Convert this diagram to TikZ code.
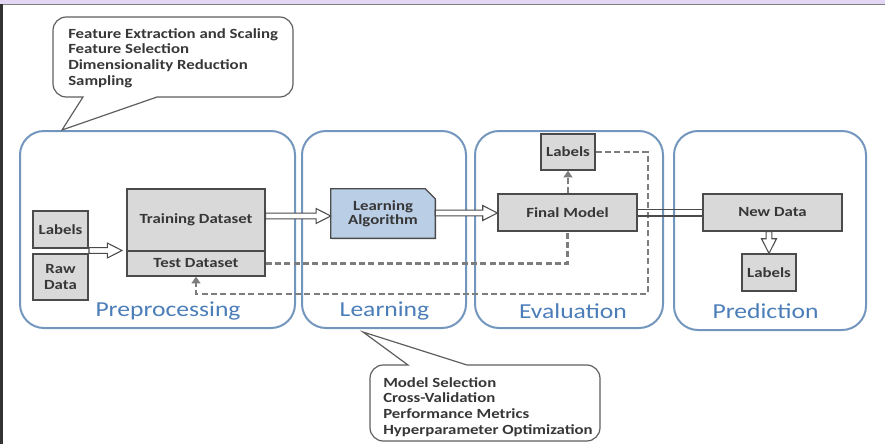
\documentclass[tikz,border=0pt]{standalone}
\usepackage{fontspec}
\setmainfont{Carlito}[FakeStretch=1.2]
\usetikzlibrary{calc,arrows.meta,shadows}

\definecolor{boxgray}{RGB}{217,217,217}
\definecolor{boxline}{RGB}{75,75,75}
\definecolor{textgray}{RGB}{55,55,55}
\definecolor{panelblue}{RGB}{115,150,190}
\definecolor{titleblue}{RGB}{75,125,185}
\definecolor{algoblue}{RGB}{186,206,230}
\definecolor{dashgray}{RGB}{125,125,125}
\definecolor{calloutgray}{RGB}{95,95,95}
\definecolor{lavender}{RGB}{228,214,245}

\newcommand{\pxu}{0.75pt}
% block arrow between two named coordinates
\newcommand{\hollowarrow}[2]{%
  \coordinate (hb) at ($(#2)!11pt!(#1)$);
  \draw[hollow] ($(#1)!2.2pt!-90:(#2)$) -- ($(hb)!2.2pt!90:(#1)$) -- ($(hb)!5.6pt!90:(#1)$)
    -- (#2) -- ($(hb)!5.6pt!-90:(#1)$) -- ($(hb)!2.2pt!-90:(#1)$) -- ($(#1)!2.2pt!90:(#2)$) -- cycle;}

\tikzset{
  panel/.style={draw=panelblue, line width=1.5pt, rounded corners=18pt, inner sep=0pt},
  paneltitle/.style={text=titleblue, font=\fontsize{16}{18}\selectfont, inner sep=0pt},
  box/.style={draw=boxline, fill=boxgray, line width=0.9pt, text=textgray, inner sep=0pt,
    align=center, font=\fontsize{10.5}{11.5}\selectfont\bfseries,
    drop shadow={opacity=0.25, shadow xshift=0.8pt, shadow yshift=-0.8pt}},
  algotext/.style={text=textgray, inner sep=0pt, align=center,
    font=\fontsize{10.5}{10.5}\selectfont\bfseries},
  hollow/.style={draw=boxline, fill=white, line width=0.8pt, line join=miter},
  feedback/.style={draw=dashgray, line width=1.7pt, dash pattern=on 4.5pt off 2.5pt},
  tip/.style={-{Triangle[length=5pt,width=6.5pt]}},
  callout/.style={draw=calloutgray, line width=0.9pt, fill=white},
  calltext/.style={text=textgray, inner sep=0pt, align=left, anchor=north west,
    font=\fontsize{10.5}{11.8}\selectfont\bfseries}
}

\begin{document}
\begin{tikzpicture}[x=0.75pt, y=-0.75pt]
  \useasboundingbox (0,0) rectangle (885,444);
  % screen edges
  \fill[lavender] (0,0) rectangle (885,4);
  \draw[gray, line width=0.6pt] (0,4.4) -- (885,4.4);
  \fill[black!80] (0,4) rectangle (3,444);

  % stage panels
  \node[panel, minimum width=275*\pxu, minimum height=197*\pxu] (pre) at (157.5,229.5) {};
  \node[panel, minimum width=164*\pxu, minimum height=197*\pxu] (learn) at (384,229.5) {};
  \node[panel, minimum width=188*\pxu, minimum height=197*\pxu] (eval) at (569,229.5) {};
  \node[panel, minimum width=192*\pxu, minimum height=199*\pxu] (pred) at (770,230.5) {};
  \node[paneltitle] (pretitle) at (168,311) {Preprocessing};
  \node[paneltitle] (learntitle) at (384.5,311) {Learning};
  \node[paneltitle] (evaltitle) at (573,311) {Evaluation};
  \node[paneltitle] (predtitle) at (765.5,311) {Prediction};

  % callouts
  \coordinate (pretip) at (62,130);
  \draw[callout] (83,97) [rounded corners=10pt] -- (53,97) -- (53,17) -- (293,17) -- (293,97)
    [sharp corners] -- (157,97) -- (pretip) -- cycle;
  \node[calltext] (pretext) at (68,28) {Feature Extraction and Scaling\\Feature Selection\\Dimensionality Reduction\\Sampling};
  \coordinate (learntip) at (363,332);
  \draw[callout] (408,365) [rounded corners=10pt] -- (370,365) -- (370,441) -- (600,441) -- (600,365)
    [sharp corners] -- (467,365) -- (learntip) -- cycle;
  \node[calltext] (learntext) at (383,377) {Model Selection\\Cross-Validation\\Performance Metrics\\Hyperparameter Optimization};

  % boxes
  \node[box, minimum width=55*\pxu, minimum height=37*\pxu] (lab) at (60.5,229.5) {Labels};
  \node[box, minimum width=55*\pxu, minimum height=46*\pxu] (raw) at (60.5,277) {Raw\\Data};
  \node[box, minimum width=138*\pxu, minimum height=62*\pxu] (train) at (196,220) {Training Dataset};
  \node[box, minimum width=138*\pxu, minimum height=25*\pxu] (test) at (196,263.5) {Test Dataset};
  \node[algotext, minimum width=104*\pxu, minimum height=49*\pxu] (algo) at (383,213.5) {Learning\\Algorithm};
  \node[box, minimum width=139*\pxu, minimum height=37*\pxu] (final) at (567.5,212.5) {Final Model};
  \node[box, minimum width=54*\pxu, minimum height=36*\pxu] (elab) at (568,152) {Labels};
  \node[box, minimum width=139*\pxu, minimum height=37*\pxu] (newd) at (772.5,212.5) {New Data};
  \node[box, minimum width=54*\pxu, minimum height=37*\pxu] (plab) at (769,272.5) {Labels};

  % learning algorithm with folded corner
  \fill[black, opacity=0.25] ([shift={(0.8pt,-0.8pt)}]algo.north west) -- ([shift={(-7.5pt,-0.8pt)}]algo.north east)
    -- ([shift={(0.8pt,-8.3pt)}]algo.north east) -- ([shift={(0.8pt,-0.8pt)}]algo.south east)
    -- ([shift={(0.8pt,-0.8pt)}]algo.south west) -- cycle;
  \draw[fill=algoblue, draw=boxline, line width=0.9pt] (algo.north west) -- ([xshift=-7.5pt]algo.north east)
    -- ([yshift=-7.5pt]algo.north east) -- (algo.south east) -- (algo.south west) -- cycle;
  \node[algotext] at (algo) {Learning\\Algorithm};

  % feedback lines
  \coordinate (loop) at (648,294);
  \draw[feedback, tip] (final.north -| elab) -- (elab.south);
  \draw[feedback, tip] (elab.east) -| (loop) -| (test.south);
  \draw[feedback] (test.east) -| (final.south);

  % block arrows
  \coordinate (a1) at (89,250.5);
  \coordinate (a2) at (122,250.5);
  \hollowarrow{a1}{a2}
  \coordinate (b1) at (train.east |- 0,216);
  \coordinate (b2) at (algo.west |- 0,216);
  \hollowarrow{b1}{b2}
  \coordinate (c1) at (algo.east |- 0,213);
  \coordinate (c2) at (final.west |- 0,213);
  \hollowarrow{c1}{c2}
  \coordinate (d1) at (newd.south -| plab);
  \coordinate (d2) at (plab.north);
  \hollowarrow{d1}{d2}
  \draw[boxline, line width=0.8pt] ([yshift=2.6pt]final.east) -- ([yshift=2.6pt]newd.west)
    ([yshift=-2.6pt]final.east) -- ([yshift=-2.6pt]newd.west);
\end{tikzpicture}
\end{document}
